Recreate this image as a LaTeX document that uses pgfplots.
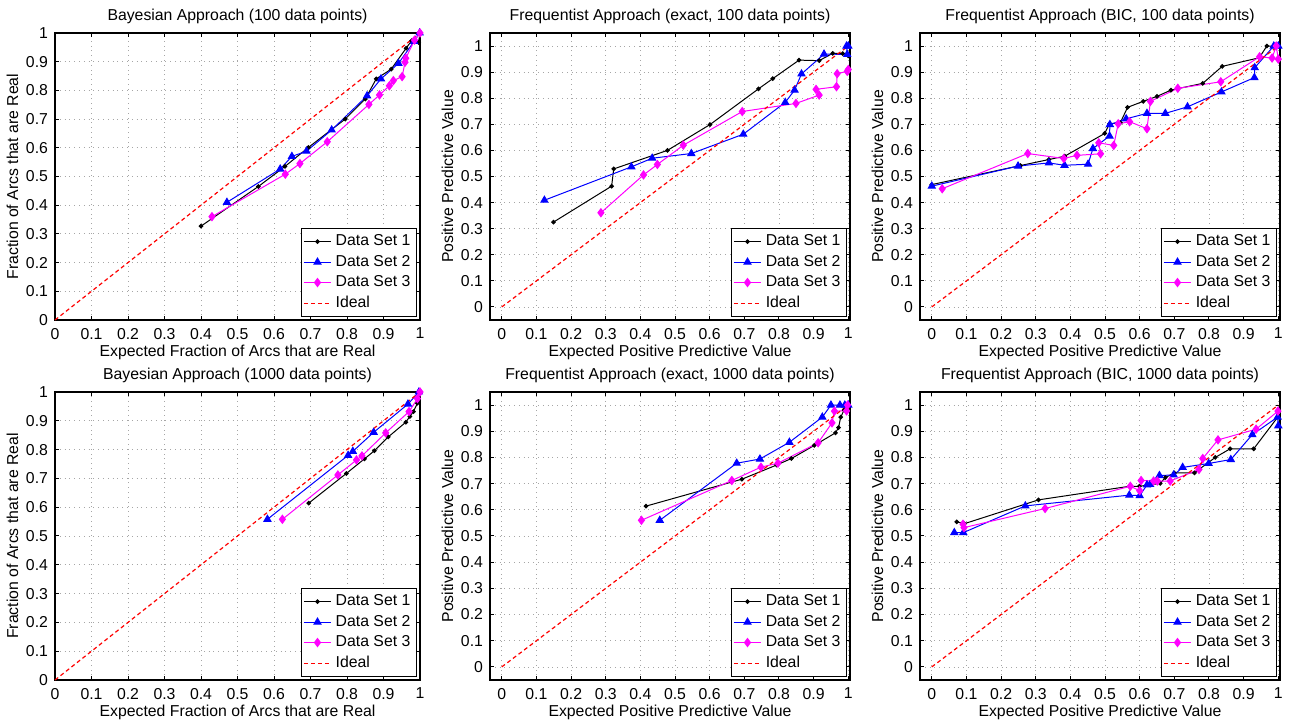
\documentclass[border=0pt]{standalone}
\usepackage{fontspec}
\setmainfont{Liberation Sans}
\usepackage{pgfplots}
\pgfplotsset{compat=1.18}
\definecolor{mag}{rgb}{1,0,1}
\definecolor{pure}{rgb}{0,0,1}
\definecolor{ired}{rgb}{1,0,0}

\newcommand{\fnt}{\fontsize{7.9}{9}\selectfont}
\pgfplotsset{
  panel/.style={
    scale only axis, anchor=south west, clip=false,
    /pgf/number format/assume math mode=true,
    xtick={0,0.1,0.2,0.3,0.4,0.5,0.6,0.7,0.8,0.9,1},
    ytick={0,0.1,0.2,0.3,0.4,0.5,0.6,0.7,0.8,0.9,1},
    tick label style={font=\fnt},
    xticklabel style={yshift=-0.5pt},
    label style={font=\fnt},
    title style={font=\fnt, yshift=-5pt},
    xlabel style={yshift=4pt},
    ylabel style={yshift=-3pt},
    grid=major,
    major grid style={dotted, gray!70, line width=0.4pt},
    major tick length=2pt,
    tick style={black, line width=0.5pt},
    axis line style={line width=0.6pt},
    legend style={at={(1,0)}, anchor=south east, xshift=-1.5pt, yshift=1.5pt,
      draw=black, line width=0.6pt, fill=white, font=\fnt, inner sep=1pt, row sep=-0.8pt},
    legend cell align=left,
    legend image code/.code={\draw[mark repeat=2,mark phase=2,##1] plot coordinates {(0cm,0cm) (0.24cm,0cm) (0.48cm,0cm)};},
  },
  wide/.style={xmin=-0.034, xmax=1.005, ymin=-0.05, ymax=1.05},
  unit/.style={xmin=0, xmax=1, ymin=0, ymax=1},
  ds1/.style={color=black, draw=black, line width=0.5pt, mark=*, mark size=0.9pt},
  ds2/.style={color=pure, draw=pure, line width=0.5pt, mark=triangle*, mark size=2pt},
  ds3/.style={color=mag, draw=mag, line width=0.5pt, mark=diamond*, mark size=2pt},
  ideal/.style={color=ired, draw=ired, line width=0.6pt, dash pattern=on 2pt off 1.5pt},
}

\begin{document}
\begin{tikzpicture}
\path[use as bounding box] (0,0) rectangle (646.5pt,360.5pt);

% top row
\begin{axis}[panel, unit, at={(27.5pt,200.5pt)}, width=182.5pt, height=143.5pt,
  title={Bayesian Approach (100 data points)},
  xlabel={Expected Fraction of Arcs that are Real},
  ylabel={Fraction of Arcs that are Real}]
\addplot[ds1] coordinates {(0.400,0.327) (0.557,0.465) (0.630,0.535) (0.694,0.601) (0.795,0.700) (0.850,0.770) (0.880,0.840) (0.921,0.874) (0.962,0.947) (0.977,0.973) (0.996,0.967) (1.0,1.0)};
\addplot[ds2] coordinates {(0.471,0.410) (0.617,0.526) (0.649,0.570) (0.689,0.588) (0.758,0.662) (0.855,0.781) (0.893,0.840) (0.941,0.894) (0.984,0.971) (0.999,1.0)};
\addplot[ds3] coordinates {(0.430,0.360) (0.631,0.508) (0.671,0.545) (0.746,0.621) (0.860,0.751) (0.889,0.784) (0.916,0.816) (0.927,0.834) (0.951,0.848) (0.959,0.898) (0.961,0.912) (0.985,0.975) (1.0,1.0)};
\addplot[ideal] coordinates {(0,0) (1,1)};
\legend{Data Set 1, Data Set 2, Data Set 3, Ideal}
\end{axis}

\begin{axis}[panel, wide, at={(245pt,200.5pt)}, width=180pt, height=143.5pt,
  title={Frequentist Approach (exact, 100 data points)},
  xlabel={Expected Positive Predictive Value},
  ylabel={Positive Predictive Value}]
\addplot[ds1] coordinates {(0.149,0.325) (0.317,0.463) (0.323,0.529) (0.478,0.600) (0.601,0.699) (0.741,0.836) (0.782,0.875) (0.858,0.946) (0.916,0.944) (0.955,0.972) (0.984,0.971) (1.0,0.962)};
\addplot[ds2] coordinates {(0.123,0.409) (0.374,0.537) (0.434,0.570) (0.547,0.588) (0.697,0.662) (0.818,0.784) (0.845,0.831) (0.865,0.893) (0.930,0.969) (0.997,0.968) (0.995,1.0) (1.0,1.0)};
\addplot[ds3] coordinates {(0.286,0.361) (0.409,0.506) (0.449,0.546) (0.524,0.620) (0.694,0.749) (0.849,0.780) (0.916,0.812) (0.907,0.834) (0.966,0.844) (0.968,0.894) (0.997,0.903) (1.0,0.910)};
\addplot[ideal] coordinates {(0,0) (1,1)};
\legend{Data Set 1, Data Set 2, Data Set 3, Ideal}
\end{axis}

\begin{axis}[panel, wide, at={(460pt,200.5pt)}, width=180pt, height=143.5pt,
  title={Frequentist Approach (BIC, 100 data points)},
  xlabel={Expected Positive Predictive Value},
  ylabel={Positive Predictive Value}]
\addplot[ds1] coordinates {(0,0.469) (0.256,0.542) (0.338,0.565) (0.384,0.578) (0.499,0.665) (0.513,0.702) (0.544,0.706) (0.565,0.765) (0.610,0.788) (0.650,0.807) (0.690,0.831) (0.782,0.857) (0.838,0.922) (0.945,0.955) (0.967,1.0) (0.994,1.0) (1.0,1.0)};
\addplot[ds2] coordinates {(0,0.463) (0.249,0.540) (0.338,0.552) (0.383,0.543) (0.451,0.547) (0.465,0.607) (0.513,0.655) (0.514,0.699) (0.561,0.721) (0.621,0.742) (0.674,0.742) (0.738,0.767) (0.836,0.824) (0.931,0.879) (0.932,0.917) (0.987,1.0) (1.0,1.0)};
\addplot[ds3] coordinates {(0.030,0.453) (0.277,0.588) (0.381,0.569) (0.419,0.581) (0.487,0.587) (0.482,0.629) (0.525,0.619) (0.538,0.702) (0.571,0.710) (0.621,0.683) (0.631,0.788) (0.710,0.838) (0.834,0.863) (0.946,0.959) (0.982,0.954) (0.994,1.0) (1.0,0.950)};
\addplot[ideal] coordinates {(0,0) (1,1)};
\legend{Data Set 1, Data Set 2, Data Set 3, Ideal}
\end{axis}

% bottom row
\begin{axis}[panel, unit, at={(27.5pt,20.5pt)}, width=182.5pt, height=144pt,
  title={Bayesian Approach (1000 data points)},
  xlabel={Expected Fraction of Arcs that are Real},
  ylabel={Fraction of Arcs that are Real}]
\addplot[ds1] coordinates {(0.695,0.614) (0.798,0.717) (0.848,0.768) (0.875,0.796) (0.913,0.844) (0.961,0.895) (0.972,0.915) (0.982,0.932) (0.993,0.961) (1.0,1.0)};
\addplot[ds2] coordinates {(0.582,0.558) (0.803,0.780) (0.816,0.794) (0.873,0.860) (0.967,0.958) (0.997,1.0)};
\addplot[ds3] coordinates {(0.623,0.558) (0.775,0.712) (0.826,0.764) (0.841,0.778) (0.906,0.858) (0.970,0.932) (0.993,0.977) (1.0,1.0)};
\addplot[ideal] coordinates {(0,0) (1,1)};
\legend{Data Set 1, Data Set 2, Data Set 3, Ideal}
\end{axis}

\begin{axis}[panel, wide, at={(245pt,20.5pt)}, width=180pt, height=144pt,
  title={Frequentist Approach (exact, 1000 data points)},
  xlabel={Expected Positive Predictive Value},
  ylabel={Positive Predictive Value}]
\addplot[ds1] coordinates {(0.416,0.614) (0.693,0.717) (0.793,0.771) (0.836,0.796) (0.902,0.846) (0.963,0.894) (0.972,0.914) (0.978,0.954) (0.988,0.981) (1.0,0.994)};
\addplot[ds2] coordinates {(0.456,0.560) (0.678,0.778) (0.745,0.794) (0.830,0.858) (0.925,0.954) (0.950,1.0) (0.976,1.0) (0.990,1.0) (1.0,1.0)};
\addplot[ds3] coordinates {(0.403,0.560) (0.664,0.712) (0.748,0.763) (0.797,0.778) (0.913,0.856) (0.953,0.932) (0.960,0.977) (0.995,0.978) (0.998,1.0)};
\addplot[ideal] coordinates {(0,0) (1,1)};
\legend{Data Set 1, Data Set 2, Data Set 3, Ideal}
\end{axis}

\begin{axis}[panel, wide, at={(460pt,20.5pt)}, width=180pt, height=144pt,
  title={Frequentist Approach (BIC, 1000 data points)},
  xlabel={Expected Positive Predictive Value},
  ylabel={Positive Predictive Value}]
\addplot[ds1] coordinates {(0.072,0.554) (0.094,0.547) (0.308,0.638) (0.571,0.690) (0.599,0.690) (0.630,0.695) (0.659,0.701) (0.674,0.723) (0.700,0.741) (0.758,0.741) (0.773,0.756) (0.818,0.800) (0.861,0.833) (0.929,0.833) (0.999,0.955)};
\addplot[ds2] coordinates {(0.065,0.513) (0.091,0.513) (0.270,0.615) (0.570,0.656) (0.600,0.654) (0.621,0.695) (0.630,0.697) (0.657,0.731) (0.698,0.733) (0.724,0.762) (0.799,0.777) (0.863,0.792) (0.925,0.887) (0.998,0.954) (1.0,0.921)};
\addplot[ds3] coordinates {(0.090,0.545) (0.093,0.532) (0.327,0.605) (0.573,0.690) (0.600,0.673) (0.604,0.712) (0.640,0.710) (0.651,0.710) (0.688,0.710) (0.771,0.754) (0.782,0.796) (0.826,0.867) (0.936,0.908) (0.999,0.977)};
\addplot[ideal] coordinates {(0,0) (1,1)};
\legend{Data Set 1, Data Set 2, Data Set 3, Ideal}
\end{axis}
\end{tikzpicture}
\end{document}
